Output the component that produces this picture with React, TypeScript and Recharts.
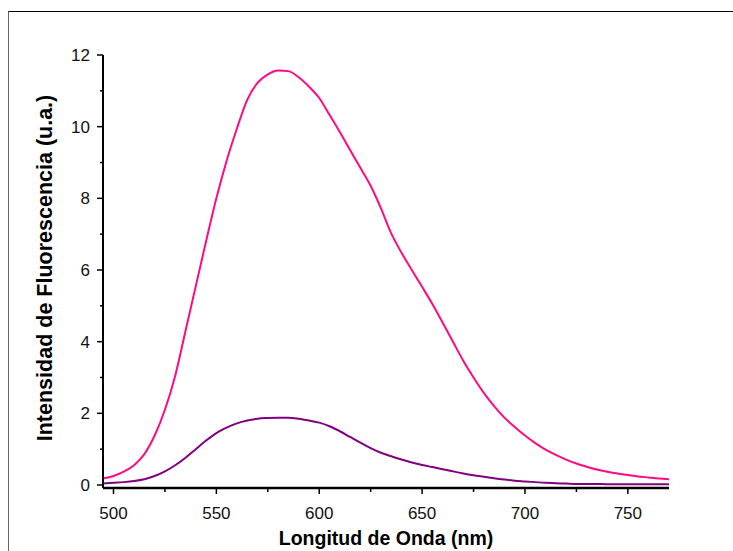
import { Line, LineChart, XAxis, YAxis } from "recharts";

// wavelength (nm), 5 nm steps
const wavelengths = [
  495, 500, 505, 510, 515, 520, 525, 530, 535, 540, 545, 550, 555, 560, 565,
  570, 575, 580, 585, 590, 595, 600, 605, 610, 615, 620, 625, 630, 635, 640,
  645, 650, 655, 660, 665, 670, 675, 680, 685, 690, 695, 700, 705, 710, 715,
  720, 725, 730, 735, 740, 745, 750, 755, 760, 765, 770,
];

// pink curve (higher intensity)
const pinkSeries = [
  0.18, 0.25, 0.37, 0.55, 0.86, 1.38, 2.1, 3.05, 4.3, 5.55, 6.8, 8.0, 9.05,
  9.95, 10.75, 11.22, 11.46, 11.57, 11.55, 11.38, 11.12, 10.8, 10.33, 9.85,
  9.35, 8.85, 8.35, 7.72, 7.02, 6.48, 6.0, 5.53, 5.05, 4.53, 4.0, 3.47, 3.0,
  2.57, 2.2, 1.88, 1.62, 1.38, 1.17, 0.99, 0.84, 0.71, 0.6, 0.51, 0.43, 0.37,
  0.32, 0.28, 0.24, 0.21, 0.18, 0.16,
];

// purple curve (lower intensity)
const purpleSeries = [
  0.04, 0.06, 0.08, 0.11, 0.16, 0.25, 0.38, 0.55, 0.76, 1.0, 1.24, 1.45, 1.6,
  1.72, 1.8, 1.85, 1.87, 1.88, 1.88, 1.85, 1.8, 1.74, 1.64, 1.5, 1.34, 1.18,
  1.03, 0.9, 0.8, 0.71, 0.63, 0.56, 0.5, 0.44, 0.38, 0.32, 0.27, 0.23, 0.19,
  0.15, 0.12, 0.1, 0.08, 0.06, 0.05, 0.04, 0.03, 0.03, 0.03, 0.02, 0.02, 0.02,
  0.02, 0.02, 0.02, 0.02,
];

const xTicks = [500, 525, 550, 575, 600, 625, 650, 675, 700, 725, 750];
const yTicks = [0, 1, 2, 3, 4, 5, 6, 7, 8, 9, 10, 11, 12];

const FONT = "'Liberation Sans', Arial, sans-serif";

interface TickProps {
  x?: number;
  y?: number;
  payload?: { value: number };
}

function XTick({ x = 0, y = 0, payload }: TickProps) {
  const v = payload?.value ?? 0;
  const major = v % 50 === 0;
  return (
    <g>
      <line x1={x} x2={x} y1={y} y2={y + (major ? 6 : 4)} stroke="#000" strokeWidth={1.5} />
      {major && (
        <text x={x} y={y + 31} textAnchor="middle" fontSize={17} fontFamily={FONT} fill="#111">
          {v}
        </text>
      )}
    </g>
  );
}

function YTick({ x = 0, y = 0, payload }: TickProps) {
  const v = payload?.value ?? 0;
  const major = v % 2 === 0;
  return (
    <g>
      <line x1={x} x2={x - (major ? 6 : 3)} y1={y} y2={y} stroke="#000" strokeWidth={1.5} />
      {major && (
        <text x={x - 13} y={y + 6} textAnchor="end" fontSize={17} fontFamily={FONT} fill="#111">
          {v}
        </text>
      )}
    </g>
  );
}

export default function App() {
  const data = wavelengths.map((w, i) => ({
    w,
    pink: pinkSeries[i],
    purple: purpleSeries[i],
  }));

  return (
    <div style={{ position: "absolute", left: 0, top: 0, width: 733, height: 551, background: "#fff", overflow: "hidden" }}>
      {/* outer frame, right and bottom edges fall outside the picture */}
      <div
        style={{
          position: "absolute",
          left: 8,
          top: 11,
          width: 740,
          height: 560,
          borderTop: "1.5px solid #000",
          borderLeft: "1.5px solid #666",
        }}
      />
      <LineChart
        width={733}
        height={551}
        data={data}
        margin={{ top: 55, right: 64, bottom: 0, left: 0 }}
        style={{ position: "absolute", left: 0, top: 0 }}
      >
        <XAxis
          dataKey="w"
          type="number"
          domain={[494.9, 770]}
          allowDataOverflow
          ticks={xTicks}
          interval={0}
          height={63}
          tickSize={0}
          tickMargin={0}
          tickLine={false}
          tick={<XTick />}
          axisLine={{ stroke: "#000", strokeWidth: 2.5 }}
          label={{
            content: ({ viewBox }: any) => (
              <text
                x={viewBox.x + viewBox.width / 2}
                y={545}
                textAnchor="middle"
                fontSize={19.5}
                fontWeight="bold"
                fontFamily={FONT}
                fill="#000"
              >
                Longitud de Onda (nm)
              </text>
            ),
          }}
        />
        <YAxis
          type="number"
          domain={[-0.084, 12]}
          allowDataOverflow
          ticks={yTicks}
          interval={0}
          width={103}
          tickSize={0}
          tickMargin={0}
          tickLine={false}
          tick={<YTick />}
          axisLine={{ stroke: "#000", strokeWidth: 2 }}
          label={{
            content: () => (
              <text
                x={0}
                y={0}
                transform="translate(52, 268) rotate(-90)"
                textAnchor="middle"
                fontSize={21.5}
                fontWeight="bold"
                fontFamily={FONT}
                fill="#000"
              >
                Intensidad de Fluorescencia (u.a.)
              </text>
            ),
          }}
        />
        <Line
          type="monotone"
          dataKey="pink"
          stroke="#ff0a82"
          strokeWidth={2}
          dot={false}
          isAnimationActive={false}
        />
        <Line
          type="monotone"
          dataKey="purple"
          stroke="#800080"
          strokeWidth={2}
          dot={false}
          isAnimationActive={false}
        />
      </LineChart>
    </div>
  );
}
